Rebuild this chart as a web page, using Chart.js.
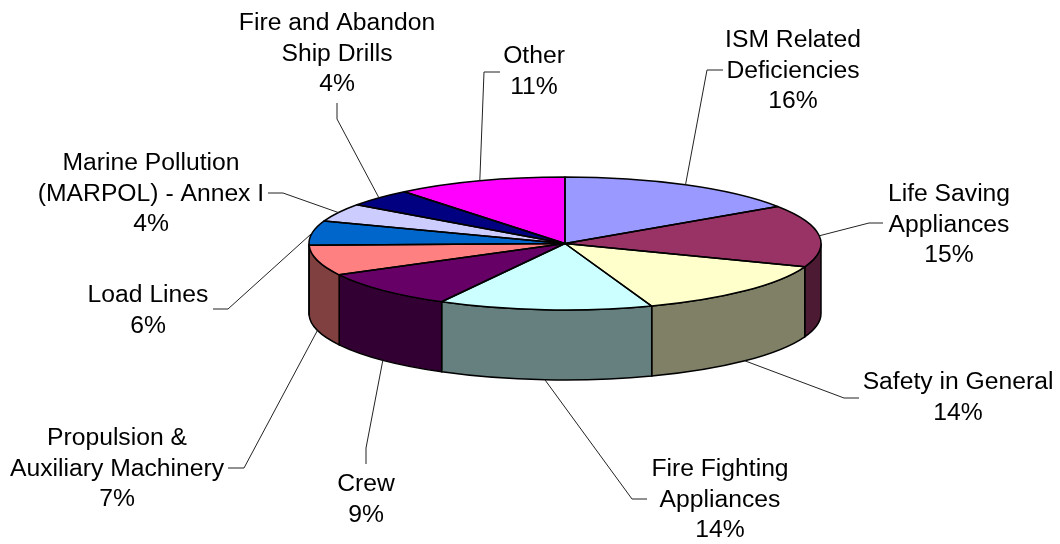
<!DOCTYPE html>
<html>
<head>
<meta charset="utf-8">
<title>Deficiencies by category</title>
<script src="https://cdn.jsdelivr.net/npm/chart.js@4"></script>
<style>
    html, body { margin: 0; padding: 0; background: #fff; }
    canvas { display: block; }
</style>
</head>
<body>
<canvas id="pie3d" width="1060" height="544"></canvas>
<script>
// data, clockwise from 12 o'clock
const categories = [
    ["ISM Related", "Deficiencies"],
    ["Life Saving", "Appliances"],
    ["Safety in General"],
    ["Fire Fighting", "Appliances"],
    ["Crew"],
    ["Propulsion &", "Auxiliary Machinery"],
    ["Load Lines"],
    ["Marine Pollution", "(MARPOL) - Annex I"],
    ["Fire and Abandon", "Ship Drills"],
    ["Other"],
];
const shares = [15.6, 15.1, 13.8, 13.5, 9.2, 7.4, 5.9, 4.4, 4.3, 10.8];
const percentLabels = ["16%", "15%", "14%", "14%", "9%", "7%", "6%", "4%", "4%", "11%"];
const sliceColors = ["#9999FF", "#993366", "#FFFFCC", "#CCFFFF", "#660066",
                     "#FF8080", "#0066CC", "#CCCCFF", "#000080", "#FF00FF"];

// label placement: text centre, y of the first line
const labelCenters = [
    [793, 40.5], [949, 194.5], [958, 382.5], [720, 469.5], [366, 484.5],
    [117, 438.5], [148, 295.5], [151, 163.5], [337, 23.5], [534, 56.5],
];
// leader lines: two elbows from the label side, the third point is on the slice rim
const leaderElbows = [
    [[723, 70], [707, 70]],
    [[883, 223], [869, 223]],
    [[859, 398], [844, 398]],
    [[647, 499], [632, 499]],
    [[366, 464], [366, 448]],
    [[228, 468], [244, 468]],
    [[213, 309], [228, 309]],
    [[268, 193], [283, 193]],
    [[337, 103], [337, 119]],
    [[500, 72], [484, 72]],
];

// tilt of the flattened pie
const tilt = 66.5 / 256;
const centerY = 243.5;
const depth = 70;
const fontPx = 24.7;
const lineGap = 30.4;
const rimWidth = 1.5;

const halfShade = (hex) => {
    const n = parseInt(hex.slice(1), 16);
    return `rgb(${(n >> 16) / 2},${((n >> 8) & 255) / 2},${(n & 255) / 2})`;
};

const pie3d = {
    id: "pie3d",
    beforeDatasetsDraw(chart) {
        const ctx = chart.ctx;
        const arcs = chart.getDatasetMeta(0).data;
        // side wall, only the part facing the viewer
        arcs.forEach((arc, i) => {
            const a = Math.max(arc.startAngle, 0);
            const b = Math.min(arc.endAngle, Math.PI);
            if (a >= b) return;
            const rx = arc.outerRadius, ry = rx * tilt;
            ctx.beginPath();
            ctx.ellipse(arc.x, centerY, rx, ry, 0, a, b);
            ctx.ellipse(arc.x, centerY + depth, rx, ry, 0, b, a, true);
            ctx.closePath();
            ctx.fillStyle = halfShade(sliceColors[i]);
            ctx.fill();
            ctx.strokeStyle = "#000";
            ctx.lineWidth = rimWidth;
            ctx.stroke();
        });
        // top face: the library draws the arcs, squeezed
        const c = arcs[0];
        ctx.save();
        ctx.translate(0, centerY);
        ctx.scale(1, tilt);
        ctx.translate(0, -c.y);
    },
    afterDatasetsDraw(chart) {
        const ctx = chart.ctx;
        ctx.restore();
        const arcs = chart.getDatasetMeta(0).data;
        arcs.forEach((arc) => {
            const rx = arc.outerRadius, ry = rx * tilt;
            ctx.beginPath();
            ctx.moveTo(arc.x, centerY);
            ctx.ellipse(arc.x, centerY, rx, ry, 0, arc.startAngle, arc.endAngle);
            ctx.closePath();
            ctx.strokeStyle = "#000";
            ctx.lineWidth = rimWidth;
            ctx.lineJoin = "round";
            ctx.stroke();
        });

        // leaders end at the middle of each slice's rim
        ctx.strokeStyle = "#222";
        ctx.lineWidth = 1;
        arcs.forEach((arc, i) => {
            const mid = (arc.startAngle + arc.endAngle) / 2;
            const rx = arc.outerRadius, ry = rx * tilt;
            const sin = Math.sin(mid);
            const ex = arc.x + rx * Math.cos(mid);
            const ey = centerY + ry * sin + (sin > 0 ? depth : 0);
            ctx.beginPath();
            ctx.moveTo(leaderElbows[i][0][0], leaderElbows[i][0][1]);
            ctx.lineTo(leaderElbows[i][1][0], leaderElbows[i][1][1]);
            ctx.lineTo(ex, ey);
            ctx.stroke();
        });

        ctx.fillStyle = "#000";
        ctx.font = `${fontPx}px "Liberation Sans", Arial, sans-serif`;
        ctx.textAlign = "center";
        ctx.textBaseline = "middle";
        categories.forEach((lines, i) => {
            const [x, y] = labelCenters[i];
            [...lines, percentLabels[i]].forEach((t, k) => {
                ctx.fillText(t, x, y + k * lineGap);
            });
        });
    },
};

new Chart(document.getElementById("pie3d"), {
    type: "pie",
    data: {
        labels: categories.map((l) => l.join(" ")),
        datasets: [
            {
                data: shares,
                backgroundColor: sliceColors,
                borderWidth: 0,
                clip: false,
            },
        ],
    },
    options: {
        responsive: false,
        animation: false,
        events: [],
        layout: { padding: { left: 70, right: 0, top: 16, bottom: 16 } },
        plugins: {
            legend: { display: false },
            tooltip: { enabled: false },
        },
    },
    plugins: [pie3d],
});
</script>
</body>
</html>
